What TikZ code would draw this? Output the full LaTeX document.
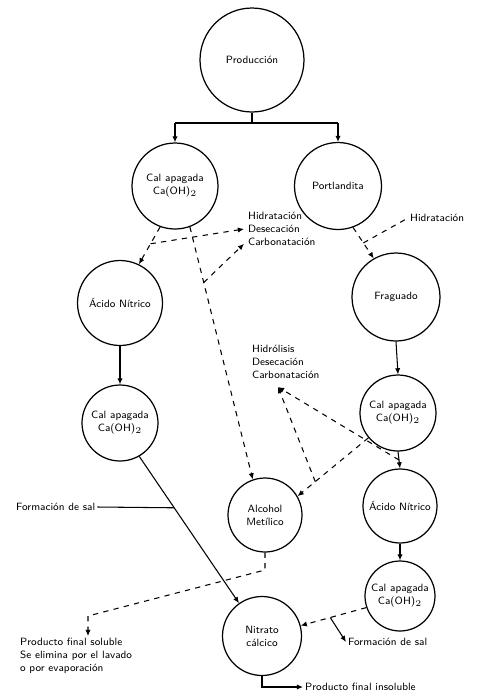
\documentclass[tikz,border=0pt]{standalone}
\usetikzlibrary{arrows.meta,calc}
\tikzset{
  etapa/.style={draw, circle, line width=0.7pt, align=center, inner sep=1pt},
  flecha/.style={-{Latex[length=3.5pt,width=3pt]}, line width=0.6pt},
  linea/.style={line width=0.6pt},
  nota/.style={anchor=west, align=left, inner sep=1pt}
}
\begin{document}
\begin{tikzpicture}[x=0.02cm, y=-0.02cm, font=\sffamily\fontsize{6}{7.4}\selectfont]
\useasboundingbox (0,0) rectangle (486,698);
%etapas
\node[etapa, minimum size=2.08cm] (prod) at (252,60) {Producción};
\node[etapa, minimum size=1.72cm] (calA) at (175,186) {Cal apagada\\Ca(OH)$_2$};
\node[etapa, minimum size=1.74cm] (port) at (338,186) {Portlandita};
\node[etapa, minimum size=1.70cm] (acA) at (120,303) {Ácido Nítrico};
\node[etapa, minimum size=1.76cm] (frag) at (396,297) {Fraguado};
\node[etapa, minimum size=1.52cm] (calB) at (120,423) {Cal apagada\\Ca(OH)$_2$};
\node[etapa, minimum size=1.52cm] (calC) at (398,413) {Cal apagada\\Ca(OH)$_2$};
\node[etapa, minimum size=1.48cm] (alc) at (265,515) {Alcohol\\Metílico};
\node[etapa, minimum size=1.48cm] (acB) at (400,506) {Ácido Nítrico};
\node[etapa, minimum size=1.40cm] (calD) at (400,596) {Cal apagada\\Ca(OH)$_2$};
\node[etapa, minimum size=1.58cm] (nit) at (262,636) {Nitrato\\cálcico};
%notas
\node[nota] (notaA) at (246,229) {Hidratación\\Desecación\\Carbonatación};
\node[nota] (notaB) at (408,218) {Hidratación};
\node[nota] (notaC) at (250,362) {Hidrólisis\\Desecación\\Carbonatación};
\node[nota] (salA) at (14,507) {Formación de sal};
\node[nota] (salB) at (346,642) {Formación de sal};
\node[anchor=north west, align=left, inner sep=1pt] (solu) at (18,636)
  {Producto final soluble\\Se elimina por el lavado\\o por evaporación};
\node[nota] (insol) at (303,687) {Producto final insoluble};
%reparto
\coordinate (bar) at (252,123);
\coordinate (barL) at (175,123);
\coordinate (barR) at (338,123);
\draw[linea] (prod.south) -- (bar);
\draw[linea] (barL) -- (barR);
\draw[flecha] (barL) -- (calA.north);
\draw[flecha] (barR) -- (port.north);
%rama izquierda
\draw[flecha, dashed] (calA.250) -- (acA.64);
\coordinate (jA) at ($(calA.250)!0.45!(acA.64)$);
\draw[flecha, dashed] (jA) -- ($(notaA.west)+(-2,0)$);
\draw[flecha, dashed] (calA.290) -- (alc.109);
\coordinate (jB) at ($(calA.290)!0.22!(alc.109)$);
\draw[flecha, dashed] (jB) -- ($(notaA.south west)+(-2,-4)$);
\draw[flecha] (acA.south) -- (calB.north);
\draw[flecha] (calB.300) -- (nit.125);
\coordinate (jF) at ($(calB.300)!0.35!(nit.125)$);
\draw[linea] (salA.east) -- (jF);
%rama derecha
\draw[flecha, dashed] (port.290) -- (frag.120);
\coordinate (jP) at ($(port.290)!0.5!(frag.120)$);
\draw[linea, dashed] (jP) -- (notaB.west);
\draw[flecha] (frag.south) -- (calC.north);
\draw[flecha, dashed] (calC.220) -- (alc.30);
\coordinate (jC) at ($(calC.220)!0.75!(alc.30)$);
\draw[flecha] (calC.south) -- (acB.north);
\coordinate (jD) at ($(calC.south)!0.5!(acB.north)$);
\coordinate (notaCpt) at (278,387);
\draw[flecha, dashed] (jC) -- (notaCpt);
\draw[flecha, dashed] (jD) -- (notaCpt);
\draw[flecha] (acB.south) -- (calD.north);
\draw[flecha, dashed] (calD.199) -- (nit.15);
\coordinate (jE) at ($(calD.199)!0.55!(nit.15)$);
\draw[flecha] (jE) -- (salB.west);
%productos finales
\coordinate (k1) at (265,570);
\coordinate (k2) at (88,616);
\draw[flecha, dashed] (alc.south) -- (k1) -- (k2) -- (k2 |- solu.north);
\draw[flecha] (nit.south) |- (insol.west);
\end{tikzpicture}
\end{document}
